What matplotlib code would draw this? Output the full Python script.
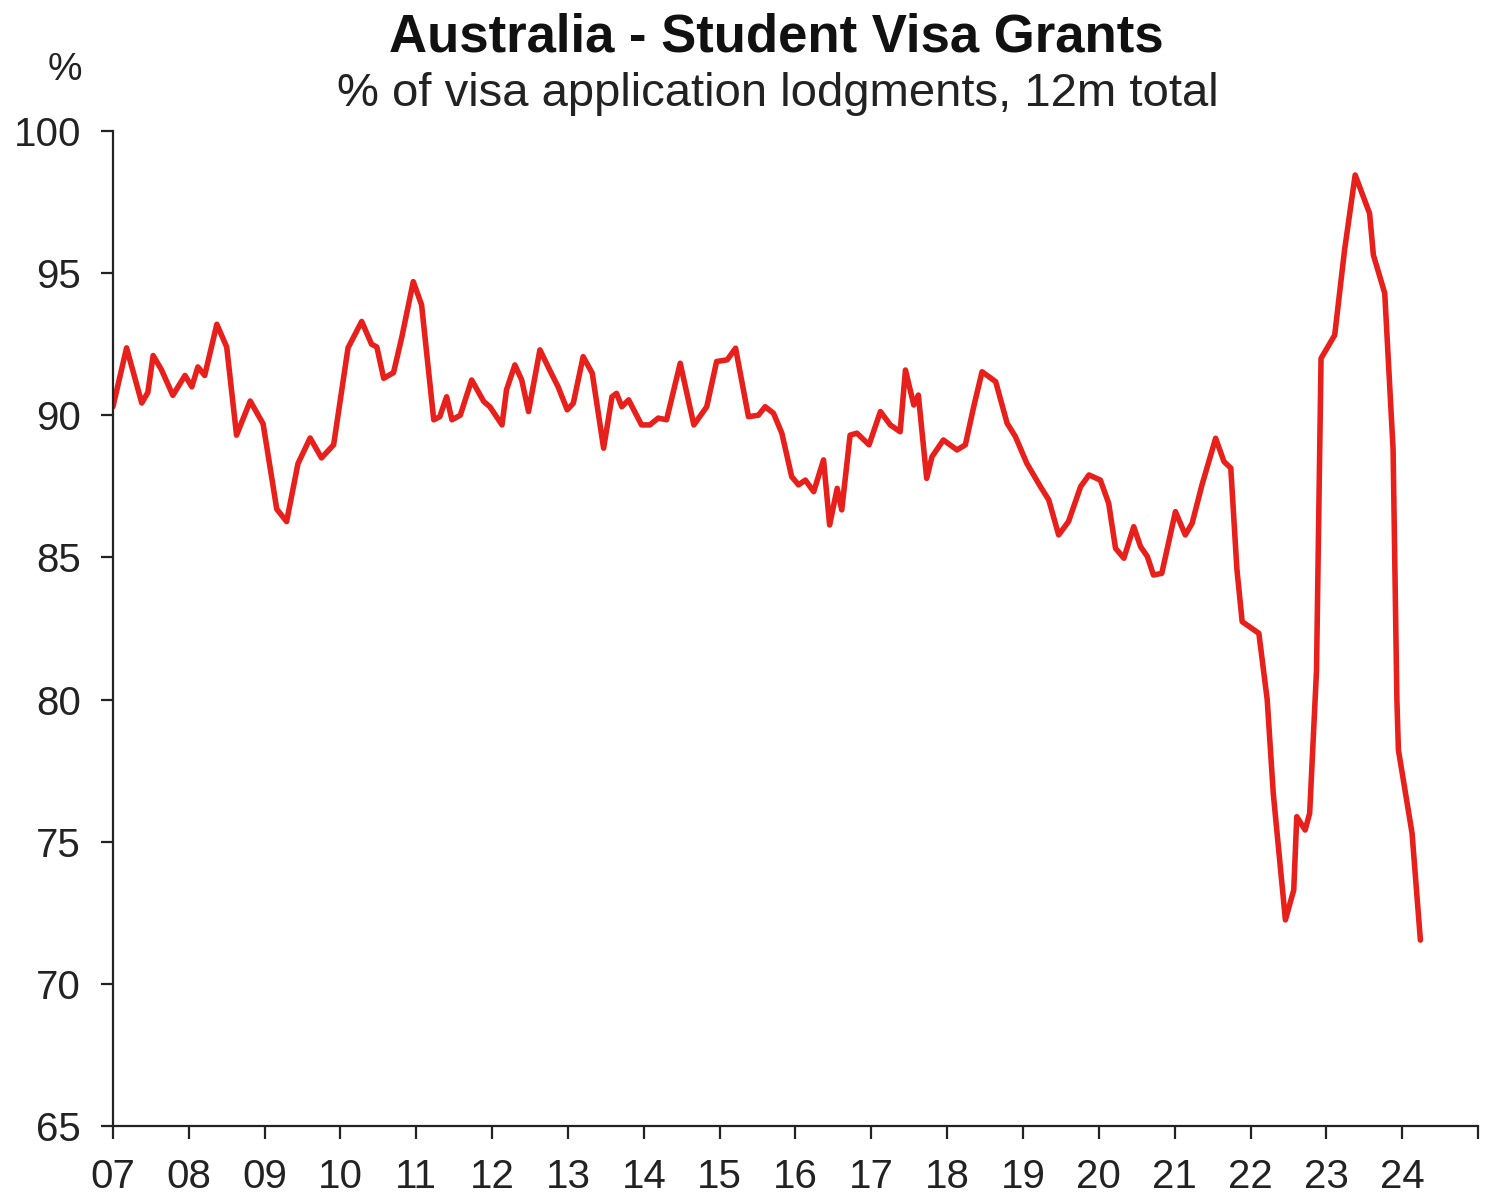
import matplotlib
matplotlib.use("Agg")
import matplotlib.pyplot as plt

plt.rcParams['font.family'] = ['Liberation Sans', 'DejaVu Sans']

# decimal year, grants as % of lodgments
dates = [2007.00, 2007.18, 2007.38, 2007.46, 2007.53, 2007.64, 2007.79, 2007.95,
         2008.04, 2008.12, 2008.21, 2008.37, 2008.50, 2008.63, 2008.81, 2008.98,
         2009.16, 2009.29, 2009.44, 2009.60, 2009.75, 2009.91, 2010.10, 2010.28,
         2010.41, 2010.48, 2010.57, 2010.70, 2010.81, 2010.96, 2011.07, 2011.23,
         2011.31, 2011.40, 2011.47, 2011.58, 2011.73, 2011.89, 2011.97, 2012.13,
         2012.19, 2012.30, 2012.39, 2012.48, 2012.63, 2012.77, 2012.87, 2012.99,
         2013.07, 2013.20, 2013.32, 2013.47, 2013.58, 2013.64, 2013.71, 2013.80,
         2013.97, 2014.08, 2014.19, 2014.30, 2014.48, 2014.66, 2014.77, 2014.83,
         2014.96, 2015.10, 2015.21, 2015.38, 2015.51, 2015.60, 2015.71, 2015.82,
         2015.95, 2016.04, 2016.13, 2016.24, 2016.37, 2016.45, 2016.55, 2016.61,
         2016.72, 2016.81, 2016.97, 2017.12, 2017.25, 2017.38, 2017.45, 2017.56,
         2017.62, 2017.73, 2017.80, 2017.95, 2018.13, 2018.24, 2018.35, 2018.46,
         2018.64, 2018.79, 2018.90, 2019.05, 2019.23, 2019.34, 2019.47, 2019.60,
         2019.76, 2019.87, 2020.02, 2020.13, 2020.22, 2020.33, 2020.46, 2020.55,
         2020.64, 2020.72, 2020.83, 2021.01, 2021.14, 2021.23, 2021.36, 2021.54,
         2021.65, 2021.74, 2021.82, 2021.89, 2022.11, 2022.22, 2022.30, 2022.46,
         2022.57, 2022.61, 2022.72, 2022.78, 2022.87, 2022.93, 2023.11, 2023.24,
         2023.38, 2023.57, 2023.62, 2023.77, 2023.88, 2023.93, 2023.95, 2024.13,
         2024.24]
grants = [90.3, 92.37, 90.43, 90.8, 92.1, 91.6, 90.7, 91.4,
          91.0, 91.7, 91.4, 93.2, 92.4, 89.3, 90.5, 89.7,
          86.7, 86.26, 88.3, 89.2, 88.5, 88.96, 92.37, 93.3,
          92.5, 92.4, 91.3, 91.5, 92.76, 94.7, 93.88, 89.84,
          89.95, 90.65, 89.84, 90.0, 91.24, 90.48, 90.3, 89.66,
          90.9, 91.77, 91.24, 90.13, 92.3, 91.53, 91.0, 90.19,
          90.42, 92.06, 91.48, 88.84, 90.65, 90.77, 90.3, 90.54,
          89.66, 89.66, 89.9, 89.84, 91.83, 89.66, 90.07, 90.3,
          91.89, 91.95, 92.36, 89.95, 90.0, 90.3, 90.07, 89.37,
          87.84, 87.55, 87.72, 87.31, 88.43, 86.14, 87.43, 86.67,
          89.3, 89.37, 88.96, 90.13, 89.66, 89.42, 91.59, 90.36,
          90.71, 87.78, 88.54, 89.13, 88.78, 88.96, 90.3, 91.53,
          91.18, 89.72, 89.25, 88.31, 87.49, 87.02, 85.79, 86.26,
          87.49, 87.9, 87.72, 86.9, 85.32, 84.97, 86.08, 85.38,
          85.03, 84.38, 84.44, 86.61, 85.79, 86.2, 87.55, 89.19,
          88.37, 88.14, 84.6, 82.74, 82.33, 80.0, 76.7, 72.25,
          73.3, 75.88, 75.41, 76.0, 81.0, 92.0, 92.82, 95.81,
          98.45, 97.1, 95.64, 94.29, 88.8, 80.0, 78.23, 75.3,
          71.54]

years = list(range(2007, 2026))
year_labels = ['07', '08', '09', '10', '11', '12', '13', '14', '15',
               '16', '17', '18', '19', '20', '21', '22', '23', '24', '']
y_ticks = [65, 70, 75, 80, 85, 90, 95, 100]

fig = plt.figure(figsize=(14.88, 11.98), dpi=100)
ax = fig.add_axes([0.0759, 0.0601, 0.9174, 0.8306])

ax.plot(dates, grants, color='#E8201C', linewidth=4.0,
        solid_joinstyle='round', solid_capstyle='round')

ax.set_xlim(2007, 2025)
ax.set_ylim(65, 100)
ax.set_xticks(years)
ax.set_xticklabels(year_labels)
ax.set_yticks(y_ticks)

for side in ['top', 'right']:
    ax.spines[side].set_visible(False)
for side in ['left', 'bottom']:
    ax.spines[side].set_linewidth(1.6)
    ax.spines[side].set_color('#222222')

ax.tick_params(axis='x', direction='out', length=9, width=1.6, pad=14,
               labelsize=29, colors='#222222')
ax.tick_params(axis='y', direction='out', length=9, width=1.6, pad=14,
               labelsize=29, colors='#222222')

fig.text(0.5215, 0.9566, 'Australia - Student Visa Grants', ha='center',
         va='baseline', fontsize=38, fontweight='bold', color='#111111')
fig.text(0.5225, 0.9115, '% of visa application lodgments, 12m total',
         ha='center', va='baseline', fontsize=34, color='#222222')
fig.text(0.0437, 0.9332, '%', ha='center', va='baseline', fontsize=28,
         color='#222222')

fig.savefig('out.png', dpi=100, facecolor='white')
